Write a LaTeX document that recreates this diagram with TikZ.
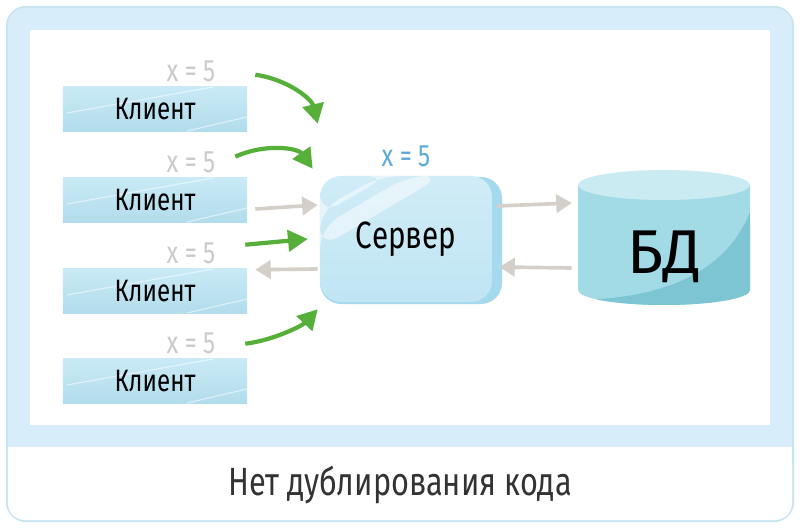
\documentclass[tikz,border=0pt]{standalone}
\usepackage{fontspec}
\setmainfont{Fira Sans}
\newfontfamily\handfont[FakeStretch=0.78]{Fira Sans}
\usetikzlibrary{arrows.meta,positioning}
\definecolor{framebg}{HTML}{D7EDF9}
\definecolor{framerim}{HTML}{C9E4F2}
\definecolor{boxtop}{HTML}{C9EAF6}
\definecolor{boxbot}{HTML}{B2DCEC}
\definecolor{srvtop}{HTML}{D0ECF7}
\definecolor{srvbot}{HTML}{C0E5F3}
\definecolor{srvedge}{HTML}{A5DAEE}
\definecolor{dbbody}{HTML}{A2DAE5}
\definecolor{dbtop}{HTML}{CBEBF2}
\definecolor{dbdark}{HTML}{7DC5D3}
\definecolor{varblue}{HTML}{5EA9D6}
\definecolor{vargray}{HTML}{CACACA}
\definecolor{arrgreen}{HTML}{55AF39}
\definecolor{arrgray}{HTML}{D5CFCA}
\definecolor{capgray}{HTML}{333333}
\begin{document}
\begin{tikzpicture}[x=0.025cm,y=-0.025cm,
  client/.style={minimum width=4.6cm, minimum height=1.1cm, inner sep=0pt,
    top color=boxtop, bottom color=boxbot, font=\handfont\fontsize{22}{24}\selectfont,
    path picture={
      \draw[white, opacity=0.55, line width=0.8pt]
        ([shift={(4,26)}]path picture bounding box.north west) -- ([shift={(150,0)}]path picture bounding box.north west);
      \draw[white, opacity=0.55, line width=0.8pt]
        ([shift={(-60,0)}]path picture bounding box.south east) -- ([shift={(0,-14)}]path picture bounding box.south east);
    }},
  varlab/.style={text=vargray, font=\handfont\fontsize{22}{24}\selectfont, inner sep=1pt},
  garrow/.style={draw=arrgreen, line width=3pt, -{Triangle[length=14pt, width=15pt]}},
  parrow/.style={draw=arrgray, line width=2.6pt, -{Triangle[length=11pt, width=13pt]}}]
\useasboundingbox (0,0) rectangle (800,530);
% Frame
\fill[framerim, rounded corners=14] (6,6) rectangle (794,522);
\fill[framebg, rounded corners=12] (8,8) rectangle (792,520);
\fill[white, rounded corners=12] (8,447) rectangle (792,520);
\fill[white] (8,447) rectangle (792,470);
\fill[white] (30,30) rectangle (770,425);
% Clients with their copies of x
\foreach \i/\y in {1/109, 2/200, 3/291, 4/381} {
  \node[client] (c\i) at (155,\y) {Клиент};
  \node[varlab, above=2pt of c\i.north, xshift=0.9cm] (v\i) {x = 5};
}
% Server
\fill[srvedge, rounded corners=15] (320,177) rectangle (502,304);
\node[minimum width=4.3cm, minimum height=3.15cm, inner sep=0pt, rounded corners=15,
  top color=srvtop, bottom color=srvbot, font=\handfont\fontsize{27}{30}\selectfont,
  path picture={
    \fill[white, opacity=0.5] ([shift={(0,34)}]path picture bounding box.north west) -- ([shift={(60,0)}]path picture bounding box.north west)
      -- ([shift={(68,0)}]path picture bounding box.north west) -- ([shift={(0,39)}]path picture bounding box.north west) -- cycle;
    \fill[white, opacity=0.5] ([shift={(0,52)}]path picture bounding box.north west) -- ([shift={(88,0)}]path picture bounding box.north west)
      -- ([shift={(122,0)}]path picture bounding box.north west) -- ([shift={(0,72)}]path picture bounding box.north west) -- cycle;
  }] (srv) at (406,239) {Сервер};
\node[text=varblue, font=\handfont\fontsize{22}{24}\selectfont, above=3pt of srv.north] (vs) {x = 5};
% Database
\node[minimum width=4.3cm, minimum height=3.375cm, inner sep=0pt] (db) at (664,237) {};
\begin{scope}
  \clip (578,185) -- (578,290) arc[start angle=180, end angle=0, x radius=86, y radius=15] -- (750,185) -- cycle;
  \fill[dbbody] (570,160) rectangle (760,320);
  \fill[dbdark] (750,212) .. controls (725,275) and (660,298) .. (580,300) -- (760,320) -- cycle;
\end{scope}
\fill[dbtop] (664,185) ellipse[x radius=86, y radius=15];
\node[font=\fontsize{44}{46}\selectfont] (dbl) at ([yshift=-14pt]db.center) {БД};
% Green requests from clients
\draw[garrow] ([shift={(8,-12)}]c1.north east) .. controls (290,80) and (312,100) .. ([shift={(-2,-52)}]srv.north west);
\draw[garrow] ([shift={(-12,-21)}]c2.north east) .. controls (265,143) and (298,148) .. ([shift={(-7,-7)}]srv.north west);
\draw[garrow] ([shift={(-2,-24)}]c3.north east) -- ([shift={(-12,0)}]srv.west);
\draw[garrow] ([shift={(-2,-15)}]c4.north east) .. controls (275,340) and (303,325) .. ([shift={(-2,7)}]srv.south west);
% Gray traffic
\draw[parrow] ([shift={(8,9)}]c2.east) -- ([shift={(-2,-34)}]srv.west);
\draw[parrow] ([shift={(-2,30)}]srv.west) -- ([shift={(8,1)}]c3.north east);
\draw[parrow] ([shift={(5,-33)}]srv.east) -- ([shift={(-6,-34)}]db.west);
\draw[parrow] ([shift={(-6,31)}]db.west) -- ([shift={(7,28)}]srv.east);
% Caption
\node[text=capgray, font=\handfont\fontsize{28}{30}\selectfont] (cap) at (400,485) {Нет дублирования кода};
\end{tikzpicture}
\end{document}
